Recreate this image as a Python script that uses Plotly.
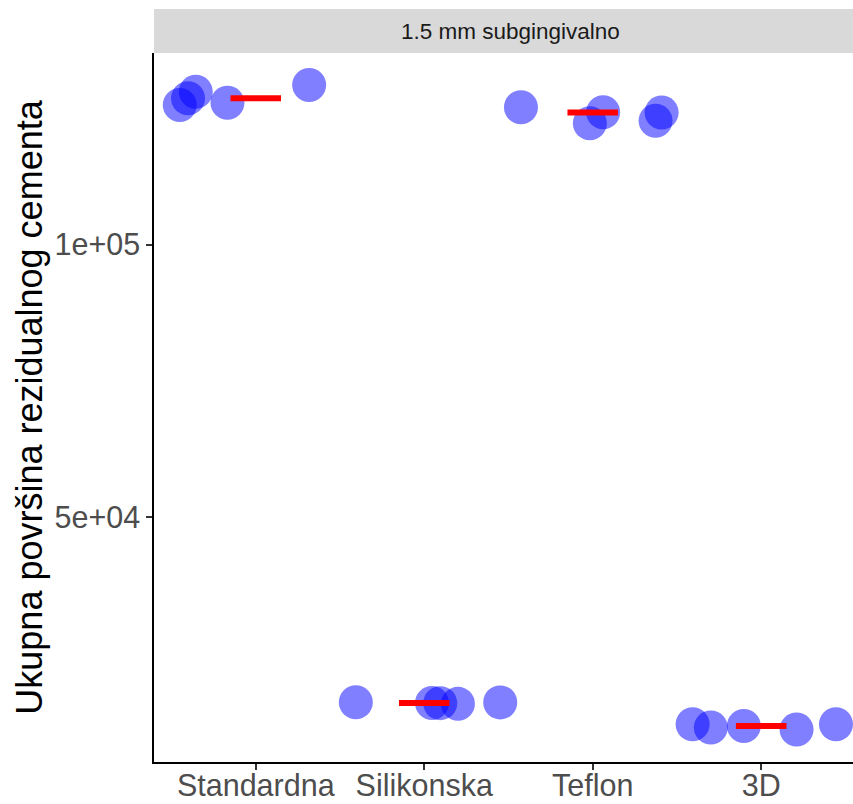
import numpy as np
import plotly.graph_objects as go

categories = ["Standardna", "Silikonska", "Teflon", "3D"]
facet_label = "1.5 mm subgingivalno"
y_title = "Ukupna površina rezidualnog cementa"

# observed values per group
vals_standardna = [125680, 126911, 128124, 126102, 129356]
vals_silikonska = [15950, 15810, 15780, 15650, 15920]
vals_teflon = [125257, 122316, 124338, 122794, 124300]
vals_3d = [11895, 11289, 11583, 10921, 11890]

# horizontal jitter offsets (category units)
jit_standardna = [-0.451, -0.402, -0.356, -0.168, 0.317]
jit_silikonska = [-0.406, 0.046, 0.095, 0.200, 0.451]
jit_teflon = [-0.426, -0.017, 0.062, 0.373, 0.409]
jit_3d = [-0.407, -0.299, -0.103, 0.210, 0.444]

y_ticks = [50000, 100000]
y_ticktext = ["5e+04", "1e+05"]

groups = [vals_standardna, vals_silikonska, vals_teflon, vals_3d]
jitters = [jit_standardna, jit_silikonska, jit_teflon, jit_3d]

fig = go.Figure()

xs, ys = [], []
for i, (v, j) in enumerate(zip(groups, jitters)):
    xs += [i + d for d in j]
    ys += v
fig.add_trace(go.Scatter(
    x=xs, y=ys, mode="markers",
    marker=dict(size=34, color="rgba(0,0,255,0.5)", line=dict(width=0)),
    showlegend=False, hoverinfo="skip", cliponaxis=False,
))

half = 0.15
for i, v in enumerate(groups):
    m = float(np.median(v))
    fig.add_trace(go.Scatter(
        x=[i - half, i + half], y=[m, m], mode="lines",
        line=dict(color="red", width=6), showlegend=False, hoverinfo="skip",
    ))

W, H = 853, 804
ml, mr, mt, mb = 154, 0, 53, 42
plot_h = H - mt - mb
strip_h = 44

fig.add_shape(type="rect", xref="paper", yref="paper",
              x0=0, x1=1.02, y0=1, y1=1 + strip_h / plot_h,
              fillcolor="#D9D9D9", line=dict(width=0), layer="below")
fig.add_annotation(xref="paper", yref="paper", x=(510 - ml) / (W - ml - mr),
                   y=1 + strip_h / 2 / plot_h, text=facet_label, showarrow=False,
                   font=dict(family="Liberation Sans, Arial, sans-serif", size=22.5, color="#1A1A1A"),
                   xanchor="center", yanchor="middle")

fig.update_layout(
    width=W, height=H,
    margin=dict(l=ml, r=mr, t=mt, b=mb, pad=0, autoexpand=False),
    plot_bgcolor="white", paper_bgcolor="white",
    font=dict(family="Liberation Sans, Arial, sans-serif"),
    xaxis=dict(
        tickmode="array", tickvals=list(range(len(categories))), ticktext=categories,
        range=[-0.604, 3.545], showgrid=False, zeroline=False, automargin=False,
        showline=True, linecolor="black", linewidth=1.5,
        ticks="outside", ticklen=6, tickcolor="#333333", tickwidth=1.5,
        tickfont=dict(size=30.5, color="#4D4D4D"), ticklabelstandoff=-10,
    ),
    yaxis=dict(
        tickmode="array", tickvals=y_ticks, ticktext=y_ticktext,
        range=[4965, 135238], showgrid=False, zeroline=False, automargin=False,
        showline=True, linecolor="black", linewidth=1.5,
        ticks="outside", ticklen=6, tickcolor="#333333", tickwidth=1.5,
        tickfont=dict(size=30.5, color="#4D4D4D"),
        title=dict(text=y_title, font=dict(size=36, color="black"), standoff=1),
    ),
)

fig.write_html("out.html")
